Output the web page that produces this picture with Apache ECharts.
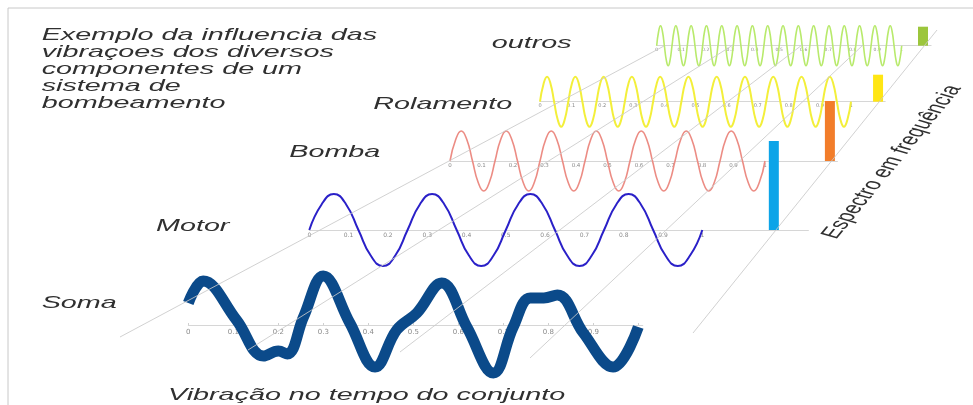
<!DOCTYPE html>
<html>
<head>
<meta charset="utf-8">
<script src="https://cdn.jsdelivr.net/npm/echarts/dist/echarts.min.js"></script>
<style>
html,body{margin:0;padding:0;background:#fff;}
#chart{width:973px;height:405px;}
</style>
</head>
<body>
<div id="chart"></div>
<script>
// ---------- DATA ----------
const tickLabels = ['0','0.1','0.2','0.3','0.4','0.5','0.6','0.7','0.8','0.9','1'];
const tickValues = tickLabels.map(Number);

// component vibrations: samples every eighth of a period across time 0..1
const motorValues = [
  0,0.71,1,0.71,0,-0.71,-1,-0.71,
  0,0.71,1,0.71,0,-0.71,-1,-0.71,
  0,0.71,1,0.71,0,-0.71,-1,-0.71,
  0,0.71,1,0.71,0,-0.71,-1,-0.71,
  0];
const bombaValues = [
  0,0.71,1,0.71,0,-0.71,-1,-0.71,
  0,0.71,1,0.71,0,-0.71,-1,-0.71,
  0,0.71,1,0.71,0,-0.71,-1,-0.71,
  0,0.71,1,0.71,0,-0.71,-1,-0.71,
  0,0.71,1,0.71,0,-0.71,-1,-0.71,
  0,0.71,1,0.71,0,-0.71,-1,-0.71,
  0,0.71,1,0.71,0,-0.71,-1,-0.71,
  0];
const rolamentoValues = [
  0,0.71,1,0.71,0,-0.71,-1,-0.71,
  0,0.71,1,0.71,0,-0.71,-1,-0.71,
  0,0.71,1,0.71,0,-0.71,-1,-0.71,
  0,0.71,1,0.71,0,-0.71,-1,-0.71,
  0,0.71,1,0.71,0,-0.71,-1,-0.71,
  0,0.71,1,0.71,0,-0.71,-1,-0.71,
  0,0.71,1,0.71,0,-0.71,-1,-0.71,
  0,0.71,1,0.71,0,-0.71,-1,-0.71,
  0,0.71,1,0.71,0,-0.71,-1,-0.71,
  0,0.71,1,0.71,0,-0.71,-1,-0.71,
  0,0.71,1,0.71,0,-0.71,-1,-0.71,
  0];
const outrosValues = [
  0,0.71,1,0.71,0,-0.71,-1,-0.71,
  0,0.71,1,0.71,0,-0.71,-1,-0.71,
  0,0.71,1,0.71,0,-0.71,-1,-0.71,
  0,0.71,1,0.71,0,-0.71,-1,-0.71,
  0,0.71,1,0.71,0,-0.71,-1,-0.71,
  0,0.71,1,0.71,0,-0.71,-1,-0.71,
  0,0.71,1,0.71,0,-0.71,-1,-0.71,
  0,0.71,1,0.71,0,-0.71,-1,-0.71,
  0,0.71,1,0.71,0,-0.71,-1,-0.71,
  0,0.71,1,0.71,0,-0.71,-1,-0.71,
  0,0.71,1,0.71,0,-0.71,-1,-0.71,
  0,0.71,1,0.71,0,-0.71,-1,-0.71,
  0,0.71,1,0.71,0,-0.71,-1,-0.71,
  0,0.71,1,0.71,0,-0.71,-1,-0.71,
  0,0.71,1,0.71,0,-0.71,-1,-0.71,
  0,0.71,1,0.71,0,-0.71,-1,-0.71,
  0];

// sum signal (time, amplitude)
const somaTime = [0, 0.033, 0.107, 0.167, 0.2, 0.22, 0.256, 0.3, 0.359, 0.415, 0.463, 0.508,
                  0.563, 0.619, 0.678, 0.722, 0.76, 0.79, 0.82, 0.878, 0.944, 1.0];
const somaValues = [2.2, 4.4, 0.5, -3.1, -2.6, -2.9, 0.8, 4.9, 0.2, -4.2, -0.5, 1.2,
                    4.2, -0.2, -4.8, -0.2, 2.7, 2.7, 3.0, -0.8, -4.2, -0.2];

// frequency spectrum bars (position on each component axis, height)
const spectrumNames = ['Motor','Bomba','Rolamento','outros'];
const spectrumPos = [1.182, 1.206, 1.087, 1.087];
const spectrumValues = [2.47, 2.0, 1.08, 0.95];

// perspective guide lines (overlay units)
const guideLines = [
  [[120,337],[664,46]],
  [[248,350],[733,45]],
  [[400,352],[802,45]],
  [[530,358],[863,45]],
  [[693,333],[937,30]]
];

// ---------- LAYOUT / STYLE ----------
const plots = [
  {vals: motorValues,     left:309.3, unit:393, xmax:1.27, base:230,   amp:36, ymax:2.5, color:'#2a20c8', lw:2,   fs:6,   barColor:'#0ca4e8'},
  {vals: bombaValues,     left:450,   unit:315, xmax:1.23, base:161,   amp:30, ymax:2.0, color:'#ec8c84', lw:1.6, fs:5.5, barColor:'#f27d2a'},
  {vals: rolamentoValues, left:540,   unit:311, xmax:1.11, base:101.7, amp:25, ymax:1.1, color:'#f3ef3a', lw:2,   fs:5,   barColor:'#ffe614'},
  {vals: outrosValues,    left:656.7, unit:245, xmax:1.12, base:45.7,  amp:20, ymax:1.0, color:'#b8ea6c', lw:1.6, fs:4.5, barColor:'#9cc63c'}
];

const grid = [], xAxis = [], yAxis = [], series = [];
function labelFmt(v){ return v > 1.0001 ? '' : (tickLabels[Math.round(v*10)] || ''); }

plots.forEach((p, i) => {
  grid.push({left:p.left, top:p.base - p.ymax*p.amp, width:p.xmax*p.unit, height:(p.ymax+1)*p.amp, outerBoundsMode:'none', containLabel:false});
  xAxis.push({gridIndex:i, type:'value', min:0, max:p.xmax, interval:0.1, offset:-p.amp,
    splitLine:{show:false}, axisTick:{show:false},
    axisLine:{show:true, onZero:false, lineStyle:{color:'#d6d6d6', width:1}},
    axisLabel:{fontSize:p.fs, color:'#8a8a8a', margin:2, formatter:labelFmt, fontFamily:'DejaVu Sans',
               customValues:tickValues, hideOverlap:false}});
  yAxis.push({gridIndex:i, type:'value', min:-1, max:p.ymax, show:false, splitLine:{show:false}});
  series.push({type:'line', name:spectrumNames[i], xAxisIndex:i, yAxisIndex:i, smooth:0.5, symbol:'none', clip:false, z:2,
    data: p.vals.map((v,k) => [k/(p.vals.length-1), v]),
    lineStyle:{color:p.color, width:p.lw}});
  series.push({type:'bar', xAxisIndex:i, yAxisIndex:i, barWidth:10, z:3, silent:true,
    data:[[spectrumPos[i], spectrumValues[i]]], itemStyle:{color:p.barColor}});
});

// Soma grid
const si = plots.length;
grid.push({left:188.3, top:275, width:1.01*450, height:100, outerBoundsMode:'none', containLabel:false});
xAxis.push({gridIndex:si, type:'value', min:0, max:1.01, interval:0.1, offset:-50,
  splitLine:{show:false},
  axisTick:{show:true, inside:true, length:2, lineStyle:{color:'#d0d0d0'}, customValues:tickValues},
  axisLine:{show:true, onZero:false, lineStyle:{color:'#d6d6d6', width:1}},
  axisLabel:{fontSize:7, color:'#8a8a8a', margin:4, formatter:labelFmt, fontFamily:'DejaVu Sans',
             customValues:tickValues, hideOverlap:false}});
yAxis.push({gridIndex:si, type:'value', min:-5, max:5, show:false, splitLine:{show:false}});
series.push({type:'line', name:'Soma', xAxisIndex:si, yAxisIndex:si, smooth:0.4, symbol:'none', clip:false, z:2,
  data: somaTime.map((t,k) => [t, somaValues[k]]),
  lineStyle:{color:'#0b4a8a', width:11, join:'round', cap:'butt'}});

// overlay grid for perspective lines
const oi = si + 1;
grid.push({left:0, top:0, width:973, height:405, outerBoundsMode:'none', containLabel:false});
xAxis.push({gridIndex:oi, type:'value', min:0, max:973, show:false});
yAxis.push({gridIndex:oi, type:'value', min:0, max:405, inverse:true, show:false});
guideLines.forEach(seg => {
  series.push({type:'line', xAxisIndex:oi, yAxisIndex:oi, symbol:'none', silent:true, z:5, clip:false,
    data:seg, lineStyle:{color:'#c9c9c9', width:1, opacity:0.85}});
});

// ---------- TEXT ----------
const SX = 1.69;
const ITAL = 'italic 17px "Liberation Sans", Arial, sans-serif';
function t(text, x, y, extra){
  return Object.assign({type:'text', x:x/SX, y:y,
    style:Object.assign({text:text, font:ITAL, fill:'#303030', align:'left', verticalAlign:'middle'}, extra||{})});
}
const titleLines = ['Exemplo da influencia das','vibraçoes dos diversos','componentes de um','sistema de','bombeamento'];
const titleY = [35.7, 52.6, 69.5, 86.4, 103.3];

const texts = titleLines.map((s,k) => t(s, 41.7, titleY[k]));
texts.push(t('outros', 491.7, 43));
texts.push(t('Rolamento', 373.3, 104.7));
texts.push(t('Bomba', 289.3, 152.3));
texts.push(t('Motor', 156, 226.7));
texts.push(t('Soma', 41.7, 303));
texts.push(t('Vibração no tempo do conjunto', 168, 395.7));
texts.push({type:'text', x:892/SX, y:162, rotation:1.117,
  style:{text:'Espectro em frequência', font:'16px "Liberation Sans", Arial, sans-serif', fill:'#303030', align:'center', verticalAlign:'middle'}});

const chart = echarts.init(document.getElementById('chart'), null, {renderer:'canvas'});
chart.setOption({
  backgroundColor:'#ffffff',
  animation:false,
  grid, xAxis, yAxis, series,
  graphic:[
    {type:'rect', shape:{x:8, y:8, width:2000, height:1000}, style:{fill:'none', stroke:'#c8c8c8', lineWidth:1}, silent:true, z:0},
    {type:'group', x:0, y:0, scaleX:SX, scaleY:1, children:texts, z:10}
  ]
});
</script>
</body>
</html>
